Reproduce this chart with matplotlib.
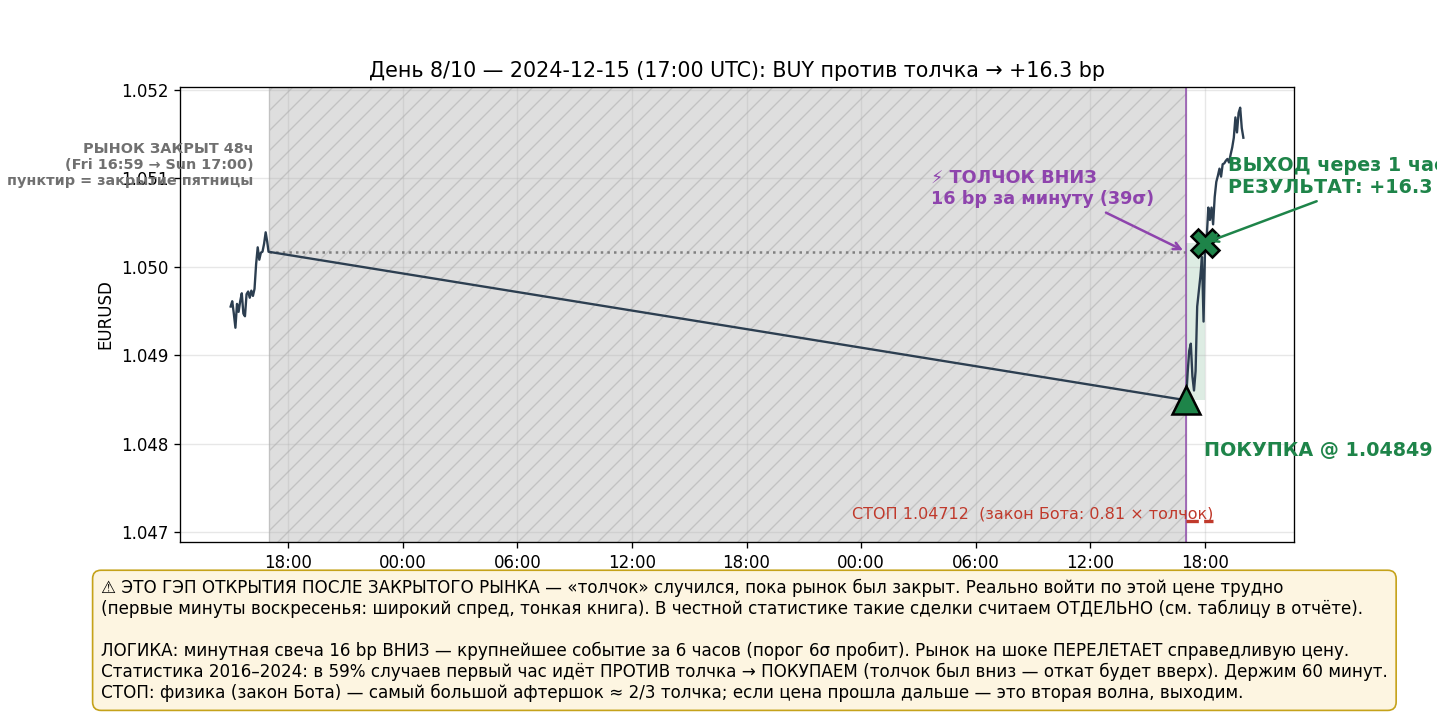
import numpy as np
import pandas as pd
import matplotlib
matplotlib.use("Agg")
import matplotlib.pyplot as plt
import matplotlib.dates as mdates

plt.rcParams["hatch.linewidth"] = 0.8

# пятница, последние 2 часа перед закрытием (шаг 5 минут + закрытие 16:59)
fri_times = list(pd.date_range("2024-12-13 15:00", "2024-12-13 16:55", freq="5min")) + [pd.Timestamp("2024-12-13 16:59")]
fri_close = [1.04955, 1.04961, 1.04947, 1.04931, 1.04958, 1.04949, 1.04961, 1.04970,
             1.04947, 1.04944, 1.04969, 1.04972, 1.04965, 1.04973, 1.04967, 1.04975,
             1.05003, 1.05022, 1.05008, 1.05016, 1.05017, 1.05026, 1.05039, 1.05028,
             1.05017]

# воскресенье, первые 3 часа после открытия
sun_times = list(pd.date_range("2024-12-15 17:00", "2024-12-15 20:00", freq="5min"))
sun_close = [1.04849, 1.04880, 1.04905, 1.04913, 1.04876, 1.04860, 1.04882, 1.04955,
             1.04972, 1.04989, 1.05011, 1.04938, 1.05027, 1.05034, 1.05067, 1.05053,
             1.05067, 1.05048, 1.05079, 1.05096, 1.05103, 1.05111, 1.05102, 1.05116,
             1.05117, 1.05120, 1.05122, 1.05118, 1.05127, 1.05135, 1.05146, 1.05169,
             1.05152, 1.05174, 1.05180, 1.05157, 1.05146]

fri_last = pd.Timestamp("2024-12-13 16:59")
sun_open = pd.Timestamp("2024-12-15 17:00")
entry_t = sun_open
exit_t = pd.Timestamp("2024-12-15 18:00")
entry_px = 1.04849
exit_px = 1.05027
stop_px = 1.04712
fri_close_px = 1.05017

GREEN = "#1e8449"
PURPLE = "#8e44ad"
RED = "#c0392b"
LINE = "#2c3e50"

fig = plt.figure(figsize=(1437 / 120, 713 / 120), dpi=120)
ax = fig.add_axes([180 / 1437, 1 - 542 / 713, (1294 - 180) / 1437, (542 - 87) / 713])

t_all = fri_times + sun_times
p_all = fri_close + sun_close
ax.plot(t_all, p_all, color=LINE, lw=1.4, zorder=3)

# закрытый рынок
ax.axvspan(fri_last, sun_open, facecolor="#dedede", edgecolor="#c2c2c2", hatch="//", lw=0.8, zorder=1)
ax.hlines(fri_close_px, fri_last, sun_open, colors="gray", linestyles=":", lw=1.5, zorder=2)
ax.axvline(sun_open, color=PURPLE, lw=1.2, alpha=0.7, zorder=2)

# сделка
stop_end = entry_t + pd.Timedelta(minutes=85)
ax.fill_between([entry_t, exit_t], entry_px, exit_px, color=GREEN, alpha=0.15, lw=0, zorder=1.5)
ax.hlines(stop_px, entry_t, stop_end, colors=RED, linestyles="--", lw=2, zorder=3)
ax.plot([entry_t], [entry_px], marker="^", ms=17, color=GREEN, mec="black", mew=1.5, zorder=5, ls="none")
ax.plot([exit_t], [exit_px], marker="X", ms=17, color=GREEN, mec="black", mew=1.5, zorder=5, ls="none")

ax.annotate("ПОКУПКА @ %.5f" % entry_px, xy=(entry_t, entry_px), xytext=(11, -30),
            textcoords="offset points", ha="left", va="center", fontsize=11.45,
            fontweight="bold", color=GREEN, zorder=6)
ax.annotate("ВЫХОД через 1 час\nРЕЗУЛЬТАТ: +16.3 bp", xy=(exit_t, exit_px), xytext=(14, 40),
            textcoords="offset points", ha="left", va="center", fontsize=11.45,
            fontweight="bold", color=GREEN, zorder=6,
            arrowprops=dict(arrowstyle="->", color=GREEN, lw=1.5,
                            relpos=(0.42, 0.0)))
ax.annotate("⚡ ТОЛЧОК ВНИЗ\n16 bp за минуту (39σ)", xy=(sun_open, fri_close_px),
            xytext=(-153, 38), textcoords="offset points", ha="left", va="center",
            fontsize=10.6, fontweight="bold", color=PURPLE, zorder=6,
            arrowprops=dict(arrowstyle="->", color=PURPLE, lw=1.5, relpos=(0.74, 0.0)))
ax.annotate("СТОП %.5f  (закон Бота: 0.81 × толчок)" % stop_px,
            xy=(stop_end, stop_px), xytext=(0, 4.2),
            textcoords="offset points", ha="right", va="center", fontsize=9.6, color=RED, zorder=6)
ax.annotate("РЫНОК ЗАКРЫТ 48ч\n(Fri 16:59 → Sun 17:00)\nпунктир = закрытие пятницы",
            xy=(fri_last, 1.05115), xytext=(-9, 0), textcoords="offset points",
            ha="right", va="center", fontsize=8.6, fontweight="bold", color="#707070",
            linespacing=1.15, zorder=6, annotation_clip=False)

ax.xaxis.set_major_locator(mdates.HourLocator(byhour=[0, 6, 12, 18]))
ax.xaxis.set_major_formatter(mdates.DateFormatter("%H:%M"))
ax.set_ylabel("EURUSD")
ax.grid(True, alpha=0.3)
ax.set_title("День 8/10 — 2024-12-15 (17:00 UTC): BUY против толчка → +16.3 bp", fontsize=12.4)

note = ("⚠ ЭТО ГЭП ОТКРЫТИЯ ПОСЛЕ ЗАКРЫТОГО РЫНКА — «толчок» случился, пока рынок был закрыт. Реально войти по этой цене трудно\n"
        "(первые минуты воскресенья: широкий спред, тонкая книга). В честной статистике такие сделки считаем ОТДЕЛЬНО (см. таблицу в отчёте).\n"
        "\n"
        "ЛОГИКА: минутная свеча 16 bp ВНИЗ — крупнейшее событие за 6 часов (порог 6σ пробит). Рынок на шоке ПЕРЕЛЕТАЕТ справедливую цену.\n"
        "Статистика 2016–2024: в 59% случаев первый час идёт ПРОТИВ толчка → ПОКУПАЕМ (толчок был вниз — откат будет вверх). Держим 60 минут.\n"
        "СТОП: физика (закон Бота) — самый большой афтершок ≈ 2/3 толчка; если цена прошла дальше — это вторая волна, выходим.")
fig.text(101 / 1437, 1 - 702 / 713, note, ha="left", va="bottom", fontsize=10.07,
         bbox=dict(boxstyle="round,pad=0.5", facecolor="#fdf5e1", edgecolor="#c5a21a"))

fig.savefig("out.png", dpi=120)
